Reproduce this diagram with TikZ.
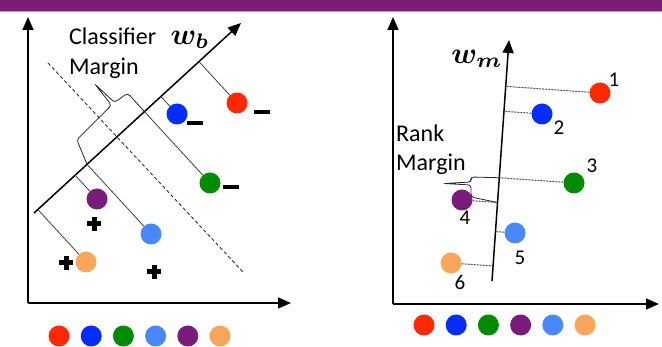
\documentclass[tikz,border=0pt]{standalone}
\usepackage{amsmath,bm}
\usepackage{fontspec}
\setmainfont{Carlito}
\usepackage{xcolor}
\usepackage{tikz}
\usetikzlibrary{arrows.meta,calc}
\definecolor{bandpurple}{RGB}{123,27,120}
\definecolor{ptred}{RGB}{255,40,0}
\definecolor{ptblue}{RGB}{5,45,255}
\definecolor{ptgreen}{RGB}{0,140,0}
\definecolor{ptsky}{RGB}{72,136,255}
\definecolor{ptpurple}{RGB}{123,27,124}
\definecolor{ptorange}{RGB}{250,166,90}
\tikzset{
  plussign/.pic={\draw[line width=5pt] (-7,0) -- (7,0) (0,-7) -- (0,7);},
  minussign/.pic={\draw[line width=4pt] (-8,0) -- (8,0);}
}

\begin{document}
\begin{tikzpicture}[x=1pt,y=-1pt,
    axis/.style={line width=1.5pt,-{Triangle[length=13pt,width=11pt]}},
    dot/.style={circle,fill=#1,minimum size=21pt,inner sep=0pt},
    proj/.style={line width=0.8pt,black!75},
    projdash/.style={line width=1pt,black!70,dash pattern=on 2pt off 1pt},
    sep/.style={line width=0.9pt,black!80,dash pattern=on 3.5pt off 2.5pt},
    margbrace/.style={line width=0.8pt,black!85,rounded corners=3pt},
    txt/.style={font=\fontsize{24}{28}\selectfont,inner sep=0pt,anchor=base west},
    num/.style={font=\fontsize{21}{24}\selectfont,inner sep=0pt}]
  \useasboundingbox (0,0) rectangle (662,347);
  \fill[white] (0,0) rectangle (662,347);
  \fill[bandpurple] (0,0) rectangle (662,11);
  \draw[bandpurple!45,line width=1pt] (0,11.8) -- (662,11.8);

  % left panel: classifier
  \coordinate (oL) at (28,303);
  \coordinate (yL) at (28,17);
  \coordinate (xL) at (291,303);
  \draw[axis] (oL) -- (yL);
  \draw[axis] (oL) -- (xL);
  \coordinate (wbA) at (34,213);
  \coordinate (wbB) at (241,23);
  \draw[axis] (wbA) -- (wbB);
  \node[scale=3] (wbLab) at (190,40) {$\bm{w}_{\bm{b}}$};
  \node[txt] (clsTxt) at (69,45) {Classifier};
  \node[txt] (clsMarg) at (69,75) {Margin};
  \coordinate (sepA) at (48,63);
  \coordinate (sepB) at (243,272);
  \draw[sep] (sepA) -- (sepB);
  \foreach \nm/\col/\pos in {R/ptred/{237,103},B/ptblue/{177,114},G/ptgreen/{210,183},
                            P/ptpurple/{97,199},S/ptsky/{151,234},O/ptorange/{86,262}}{
    \node[dot=\col] (p\nm) at (\pos) {};
    \coordinate (f\nm) at ($(wbA)!(p\nm)!(wbB)$);
    \draw[proj] (p\nm) -- (f\nm);
  }
  \draw[margbrace] (fS) -- (76.8,139.8) -- (111.5,105.2) -- (94.8,84)
    -- (114.5,102.5) -- (127.7,93.2) -- (fG);
  \pic at (262,112) {minussign};
  \pic at (195,123) {minussign};
  \pic at (231,187) {minussign};
  \pic at (94,224) {plussign};
  \pic at (154,272) {plussign};
  \pic at (66,263) {plussign};
  \foreach \col [count=\i] in {ptred,ptblue,ptgreen,ptsky,ptpurple,ptorange}
    \node[dot=\col] (legL\i) at ({26.8+32.2*\i},336) {};

  % right panel: ranking
  \coordinate (oR) at (393,304);
  \coordinate (yR) at (393,17);
  \coordinate (xR) at (659,304);
  \draw[axis] (oR) -- (yR);
  \draw[axis] (oR) -- (xR);
  \coordinate (wmA) at (492,281);
  \coordinate (wmB) at (509,40);
  \draw[axis] (wmA) -- (wmB);
  \node[scale=3] (wmLab) at (477,59) {$\bm{w}_{\bm{m}}$};
  \node[txt] (rkTxt) at (396,142) {Rank};
  \node[txt] (rkMarg) at (396,171) {Margin};
  \foreach \nm/\col/\pos/\n/\npos in {R/ptred/{600,93}/1/{614,80},B/ptblue/{542,114}/2/{559,128},
                                     G/ptgreen/{574,183}/3/{592,166},P/ptpurple/{462,200}/4/{465,218},
                                     S/ptsky/{515,233}/5/{520,258},O/ptorange/{451,263}/6/{460,282}}{
    \node[dot=\col] (q\nm) at (\pos) {};
    \node[num] (n\n) at (\npos) {\n};
    \coordinate (h\nm) at ($(wmA)!(q\nm)!(wmB)$);
    \draw[projdash] (q\nm) -- (h\nm);
  }
  \draw[margbrace] (hG) -- (471,177) -- (471,182) -- (444,183.5)
    -- (471,185) -- (471,197) -- (hP);
  \foreach \col [count=\i] in {ptred,ptblue,ptgreen,ptpurple,ptsky,ptorange}
    \node[dot=\col] (legR\i) at ({391.8+32.2*\i},325) {};
\end{tikzpicture}
\end{document}
